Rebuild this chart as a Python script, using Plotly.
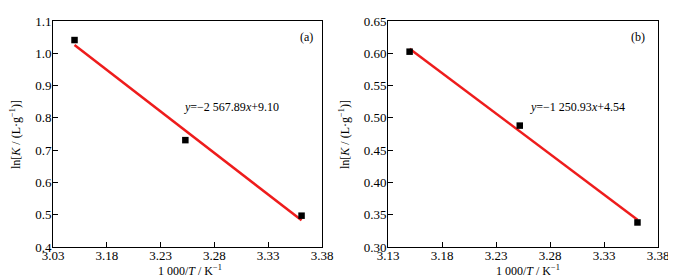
import numpy as np
import plotly.graph_objects as go

# Data
x_a = [3.150, 3.253, 3.361]
y_a = [1.041, 0.731, 0.497]
x_b = [3.150, 3.252, 3.361]
y_b = [0.6025, 0.488, 0.338]

xticks = [3.13, 3.18, 3.23, 3.28, 3.33, 3.38]
xticktext_a = ["3.03", "3.18", "3.23", "3.28", "3.33", "3.38"]
xticktext_b = ["3.13", "3.18", "3.23", "3.28", "3.33", "3.38"]
yticks_a = [0.4, 0.5, 0.6, 0.7, 0.8, 0.9, 1.0, 1.1]
yticks_b = [0.30, 0.35, 0.40, 0.45, 0.50, 0.55, 0.60, 0.65]

eq_a = "<i>y</i>=−2 567.89<i>x</i>+9.10"
eq_b = "<i>y</i>=−1 250.93<i>x</i>+4.54"

FONT = "Liberation Serif, Times New Roman, serif"

fig = go.Figure()

def add_panel(xs, ys, xa, ya):
    k, b = np.polyfit(xs, ys, 1)
    xl = np.array([min(xs), max(xs)])
    fig.add_trace(go.Scatter(x=xl, y=k * xl + b, mode="lines",
                             line=dict(color="#ee1c1c", width=2.5),
                             xaxis=xa, yaxis=ya, showlegend=False))
    fig.add_trace(go.Scatter(x=xs, y=ys, mode="markers",
                             marker=dict(symbol="square", size=6.5, color="black"),
                             xaxis=xa, yaxis=ya, showlegend=False))

add_panel(x_a, y_a, "x", "y")
add_panel(x_b, y_b, "x2", "y2")

ydom = [41 / 280, 267 / 280]
common = dict(showline=True, linecolor="black", linewidth=1, mirror=True,
              ticks="inside", ticklen=5, tickcolor="black", showgrid=False,
              zeroline=False, automargin=False,
              tickfont=dict(family=FONT, size=13, color="black"))
xcommon = dict(ticklabelstandoff=-4, **common)
ycommon = dict(ticklabelstandoff=-2, **common)

fig.update_layout(
    width=676, height=280,
    margin=dict(l=0, r=0, t=0, b=0),
    paper_bgcolor="white", plot_bgcolor="white",
    font=dict(family=FONT, size=12, color="black"),
    xaxis=dict(domain=[45 / 676, 314 / 676], range=[3.13, 3.38],
               tickvals=xticks, ticktext=xticktext_a, anchor="y", **xcommon),
    yaxis=dict(domain=ydom, range=[0.4, 1.1], tickvals=yticks_a,
               tickformat=".1f", anchor="x", **ycommon),
    xaxis2=dict(domain=[380 / 676, 650 / 676], range=[3.13, 3.38],
                tickvals=xticks, ticktext=xticktext_b, anchor="y2", **xcommon),
    yaxis2=dict(domain=ydom, range=[0.30, 0.65], tickvals=yticks_b,
                tickformat=".2f", anchor="x2", **ycommon),
)

ann = []
ytitle = "ln[<i>K</i> / (L·g<sup>−1</sup>)]"
xtitle = "1 000/<i>T</i> / K<sup>−1</sup>"
for xc in [7 / 676, 336 / 676]:
    ann.append(dict(text=ytitle, x=xc, y=(280 - 127) / 280, xref="paper", yref="paper",
                    textangle=-90, showarrow=False, xanchor="center", yanchor="middle",
                    font=dict(family=FONT, size=12)))
for xc in [182 / 676, 520 / 676]:
    ann.append(dict(text=xtitle, x=xc, y=(280 - 262) / 280, xref="paper", yref="paper",
                    showarrow=False, xanchor="center", yanchor="middle",
                    font=dict(family=FONT, size=12)))
ann.append(dict(text="(a)", x=298 / 676, y=(280 - 29) / 280, xref="paper", yref="paper",
                showarrow=False, xanchor="center", yanchor="middle", font=dict(family=FONT, size=12)))
ann.append(dict(text="(b)", x=630 / 676, y=(280 - 29) / 280, xref="paper", yref="paper",
                showarrow=False, xanchor="center", yanchor="middle", font=dict(family=FONT, size=12)))
ann.append(dict(text=eq_a, x=174 / 676, y=(280 - 99) / 280, xref="paper", yref="paper",
                showarrow=False, xanchor="left", yanchor="middle", font=dict(family=FONT, size=12)))
ann.append(dict(text=eq_b, x=520 / 676, y=(280 - 99) / 280, xref="paper", yref="paper",
                showarrow=False, xanchor="left", yanchor="middle", font=dict(family=FONT, size=12)))
fig.update_layout(annotations=ann)

fig.write_html("out.html")
